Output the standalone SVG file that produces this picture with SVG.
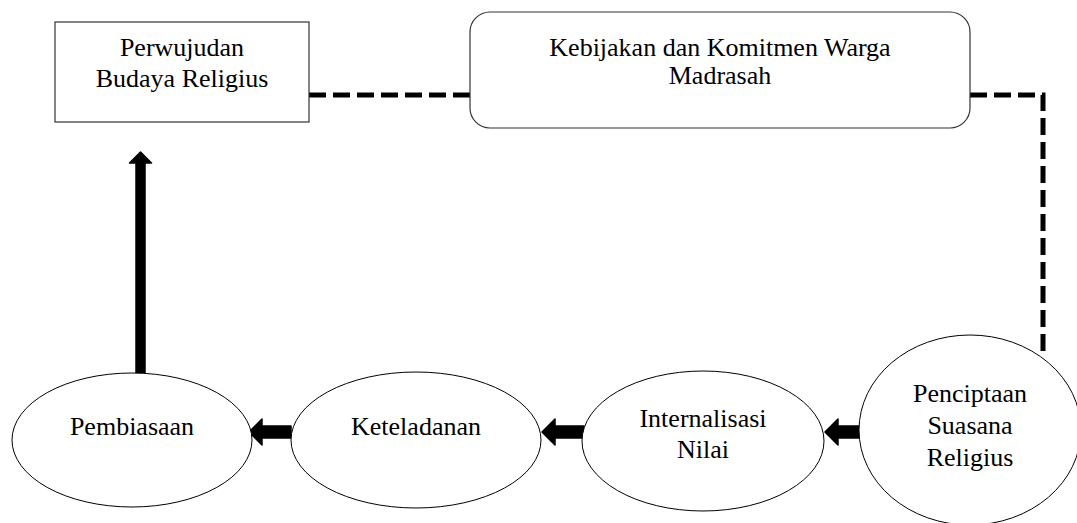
<svg xmlns="http://www.w3.org/2000/svg" width="1077" height="523" viewBox="0 0 1077 523">
<style>
.box{fill:#fff;stroke:#333;stroke-width:1.2}
.ell{fill:#fff;stroke:#000;stroke-width:1}
.t{font-family:"Liberation Serif","Times New Roman",serif;font-size:26px;fill:#000;text-anchor:middle}
.dash{fill:none;stroke:#000;stroke-width:5;stroke-dasharray:17 7}
.arr{fill:#000;stroke:#000;stroke-width:1.5;stroke-linejoin:round}
</style>
<rect width="1077" height="523" fill="#fff"/>
<g id="connectors">
<path class="dash" d="M309 95 H470"/>
<path class="dash" d="M970 95 H1043 V352"/>
<polygon class="arr" points="136,375 136,163 129.5,163 140.5,152 151.5,163 145,163 145,375"/>
<polygon class="arr" points="291,426 262,426 262,419 249,432 262,445 262,438 291,438"/>
<polygon class="arr" points="584,426 555,426 555,419 542,432 555,445 555,438 584,438"/>
<polygon class="arr" points="861,426 838,426 838,419 825,432 838,445 838,438 861,438"/>
</g>
<g id="perwujudan">
<rect class="box" x="55" y="22" width="254" height="100"/>
<text class="t" x="182" y="56">Perwujudan</text>
<text class="t" x="182" y="87">Budaya Religius</text>
</g>
<g id="kebijakan">
<rect class="box" x="470" y="12" width="500" height="116" rx="20" ry="20"/>
<text class="t" x="720" y="56">Kebijakan dan Komitmen Warga</text>
<text class="t" x="720" y="84">Madrasah</text>
</g>
<g id="pembiasaan">
<ellipse class="ell" cx="132" cy="440" rx="120" ry="67"/>
<text class="t" x="132" y="435">Pembiasaan</text>
</g>
<g id="keteladanan">
<ellipse class="ell" cx="416" cy="440" rx="125" ry="68"/>
<text class="t" x="416" y="435">Keteladanan</text>
</g>
<g id="internalisasi">
<ellipse class="ell" cx="703" cy="441" rx="121" ry="70"/>
<text class="t" x="703" y="427">Internalisasi</text>
<text class="t" x="703" y="458">Nilai</text>
</g>
<g id="penciptaan">
<ellipse class="ell" cx="970" cy="430" rx="111" ry="95"/>
<text class="t" x="970" y="402">Penciptaan</text>
<text class="t" x="970" y="434">Suasana</text>
<text class="t" x="970" y="466">Religius</text>
</g>
</svg>
